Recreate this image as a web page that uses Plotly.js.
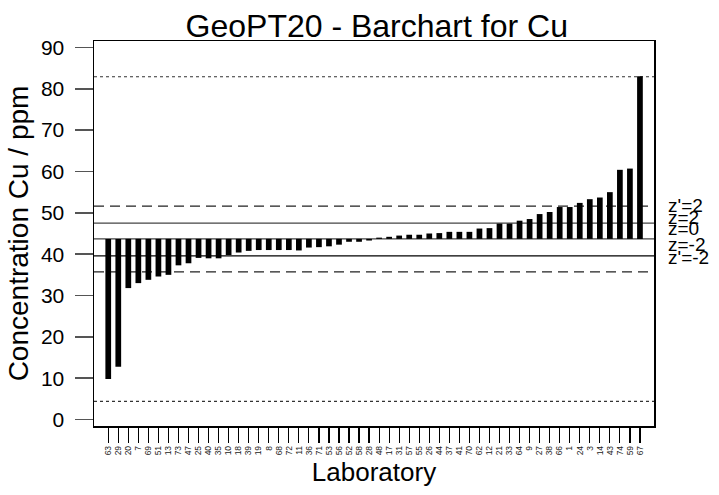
<!DOCTYPE html>
<html>
<head>
<meta charset="utf-8">
<script src="https://cdn.plot.ly/plotly-3.0.1.min.js"></script>
<style>html,body{margin:0;padding:0;background:#fff;}#chart{width:719px;height:495px;}</style>
</head>
<body>
<div id="chart"></div>
<script>
// Laboratory codes (x categories, sorted by result)
const labs = ["63","29","20","7","69","51","13","73","47","25",
              "40","35","10","18","39","19","8","68","72","11",
              "36","71","53","56","52","58","28","48","17","31",
              "57","55","26","44","37","41","70","62","12","21",
              "33","64","9","27","38","66","1","24","3","14",
              "43","74","59","67"];
// Reported Cu concentrations (ppm)
const values = [9.8,12.8,31.8,33.0,33.8,34.6,35.0,37.3,37.8,39.1,
                39.0,39.0,39.8,40.4,40.8,41.0,41.0,41.0,41.0,40.9,
                41.6,41.7,41.9,42.3,43.0,43.0,43.3,44.0,44.2,44.5,
                44.7,44.7,45.0,45.1,45.4,45.4,45.4,46.2,46.3,47.4,
                47.4,48.1,48.5,49.7,50.2,51.4,51.4,52.4,53.3,53.7,
                55.0,60.4,60.7,83.0];
// Reference lines
const assigned = 43.7;
const zPlus2 = 47.5, zMinus2 = 39.6;
const zpPlus2 = 51.6, zpMinus2 = 35.7;
const dotHigh = 82.9, dotLow = 4.4;
const lineLabels = ["z'=2","z=2","z=0","z=-2","z'=-2"];
const labelPos = [51.7, 48.8, 46.1, 42.3, 39.1];
const yTicks = [0,10,20,30,40,50,60,70,80,90];

const font = "Liberation Sans, Arial, sans-serif";

const trace = {
  type: "bar",
  x: labs,
  y: values.map(v => v - assigned),
  base: assigned,
  width: 0.57,
  marker: {color: "#000000", line: {width: 0}},
  hoverinfo: "x+y"
};

function hline(y, dash, color, width) {
  return {type: "line", xref: "paper", yref: "y", x0: 0, x1: 1, y0: y, y1: y,
          line: {color: color, width: width, dash: dash}, layer: "below"};
}

const shapes = [
  hline(dotHigh, "dot", "#333", 1.2),
  hline(dotLow, "dot", "#333", 1.2),
  hline(zpPlus2, "10px,6px", "#222", 1.2),
  hline(zpMinus2, "10px,6px", "#222", 1.2),
  hline(zPlus2, "solid", "#444", 1.2),
  hline(assigned, "solid", "#444", 1.2),
  hline(zMinus2, "solid", "#000", 1.2)
];

const annotations = lineLabels.map((t, i) => ({
  text: t, xref: "paper", yref: "y", x: 1.022, y: labelPos[i],
  xanchor: "left", yanchor: "middle", showarrow: false,
  font: {family: font, size: 19, color: "#000"}
}));

const layout = {
  width: 719, height: 495,
  margin: {l: 94, r: 65, t: 41, b: 69, pad: 0},
  paper_bgcolor: "#fff", plot_bgcolor: "#fff",
  showlegend: false,
  font: {family: font, color: "#000"},
  title: {text: "GeoPT20 - Barchart for Cu", font: {family: font, size: 32, color: "#000"},
          x: 0.524, xanchor: "center", y: 0.948, yanchor: "middle", yref: "container"},
  xaxis: {
    type: "category", range: [-1.42, 54.4],
    showline: true, mirror: true, linecolor: "#000", linewidth: 1.5,
    showgrid: false, zeroline: false,
    ticks: "outside", ticklen: 15, tickcolor: "#000", tickwidth: 1.2,
    tickangle: -90, tickfont: {family: font, size: 8.5, color: "#222"},
    title: {text: "Laboratory", font: {family: font, size: 26, color: "#000"}, standoff: 8}
  },
  yaxis: {
    range: [-1.55, 91.55],
    showline: true, mirror: true, linecolor: "#000", linewidth: 1.5,
    showgrid: false, zeroline: false,
    tickvals: yTicks, ticks: "outside", ticklen: 18, tickcolor: "#555", tickwidth: 1.5,
    ticklabelstandoff: 6,
    tickfont: {family: font, size: 21, color: "#000"},
    title: {text: "Concentration Cu / ppm", font: {family: font, size: 28, color: "#000"}, standoff: 4}
  },
  shapes: shapes,
  annotations: annotations,
  bargap: 0.4
};

Plotly.newPlot("chart", [trace], layout, {displayModeBar: false, staticPlot: true});
</script>
</body>
</html>
